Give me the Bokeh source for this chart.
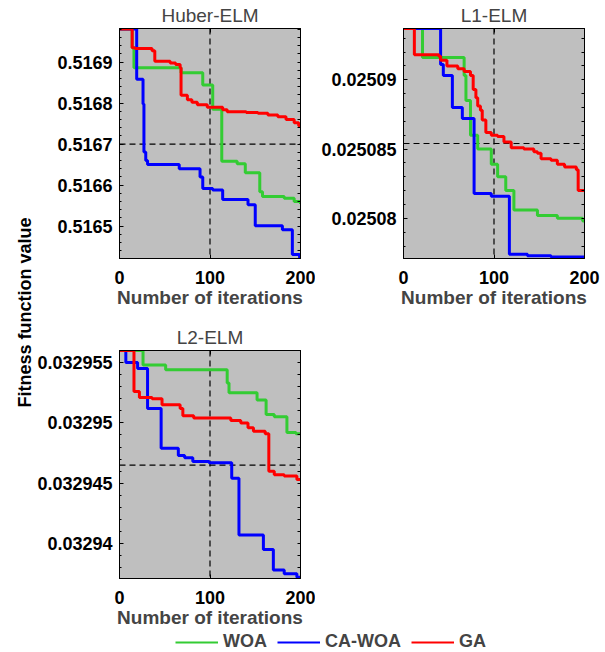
import math
from bokeh.plotting import figure
from bokeh.layouts import row, column
from bokeh.models import (Range1d, FixedTicker, LinearAxis, Span, Label, Legend,
                          LegendItem, CustomJSTickFormatter)
from bokeh.embed import file_html
from bokeh.resources import INLINE

FONT = "Liberation Sans"
COLORS = {"WOA": "#33cc33", "CA-WOA": "#0000ff", "GA": "#ff0000"}
SERIES_NAMES = ["WOA", "CA-WOA", "GA"]

X_TICKS = [0, 100, 200]
X_RANGE = [0, 200]
V_LINE = 100

# ---------------- Huber-ELM ----------------
huber_woa_it = [0, 14, 16, 68, 92, 103, 113, 130, 139, 155, 158, 182, 193, 200]
huber_woa_v = [0.516981, 0.516935, 0.516886, 0.516874, 0.516844, 0.516785, 0.516658,
               0.516652, 0.516630, 0.516584, 0.516572, 0.516568, 0.516560, 0.516554]
huber_ca_it = [0, 19, 26, 27, 29, 31, 66, 89, 92, 103, 114, 142, 150, 180, 191, 199, 200]
huber_ca_v = [0.516981, 0.516858, 0.516798, 0.516681, 0.516660, 0.516650, 0.516640,
              0.516620, 0.516592, 0.516588, 0.516565, 0.516552, 0.516501, 0.516491,
              0.516431, 0.516423, 0.516423]
huber_ga_it = [0, 14, 17, 36, 39, 56, 62, 67, 68, 75, 80, 86, 97, 114, 119, 140, 153,
               164, 175, 184, 193, 198, 200]
huber_ga_v = [0.516981, 0.516935, 0.516933, 0.516928, 0.516902, 0.516898, 0.516894,
              0.516886, 0.516819, 0.516808, 0.516802, 0.516796, 0.516790, 0.516784,
              0.516779, 0.516777, 0.516775, 0.516771, 0.516767, 0.516760, 0.516752,
              0.516745, 0.516745]
huber_yrange = [0.516421, 0.516982]
huber_yticks = [0.5165, 0.5166, 0.5167, 0.5168, 0.5169]
huber_yminor_step = 0.00002
huber_hline = 0.5167

# ---------------- L1-ELM ----------------
l1_woa_it = [0, 21, 67, 69, 74, 82, 97, 104, 113, 122, 148, 170, 198, 200]
l1_woa_v = [0.0250937, 0.0250916, 0.0250903, 0.0250885, 0.0250860, 0.0250850,
            0.0250839, 0.0250830, 0.0250820, 0.0250806, 0.0250802, 0.0250800,
            0.0250798, 0.0250798]
l1_ca_it = [0, 41, 44, 54, 65, 78, 97, 117, 137, 163, 200]
l1_ca_v = [0.0250937, 0.0250911, 0.0250903, 0.0250880, 0.0250872, 0.0250818,
           0.0250816, 0.0250774, 0.0250773, 0.0250772, 0.0250771]
l1_ga_it = [0, 12, 39, 41, 48, 60, 67, 74, 77, 80, 82, 85, 87, 91, 97, 104, 111, 119,
            133, 144, 148, 152, 163, 170, 178, 191, 193, 200]
l1_ga_v = [0.0250937, 0.0250918, 0.0250917, 0.0250914, 0.0250910, 0.0250908,
           0.0250906, 0.0250903, 0.0250893, 0.0250887, 0.0250881, 0.0250878,
           0.0250871, 0.0250862, 0.0250860, 0.0250859, 0.0250855, 0.0250851,
           0.0250850, 0.0250848, 0.0250847, 0.0250843, 0.0250842, 0.0250839,
           0.0250837, 0.0250835, 0.0250820, 0.0250820]
l1_yrange = [0.0250771, 0.0250937]
l1_yticks = [0.02508, 0.025085, 0.02509]
l1_yminor_step = 0.000001
l1_hline = 0.0250854

# ---------------- L2-ELM ----------------
l2_woa_it = [0, 26, 51, 119, 121, 152, 162, 171, 185, 195, 200]
l2_woa_v = [0.0329560, 0.0329548, 0.0329544, 0.0329533, 0.0329525, 0.0329519,
            0.0329507, 0.0329505, 0.0329492, 0.0329491, 0.0329491]
l2_ca_it = [0, 7, 20, 31, 46, 65, 72, 81, 99, 124, 132, 159, 170, 182, 196, 200]
l2_ca_v = [0.0329560, 0.0329550, 0.0329545, 0.0329512, 0.0329479, 0.0329473,
           0.0329471, 0.0329468, 0.0329467, 0.0329454, 0.0329407, 0.0329395,
           0.0329378, 0.0329375, 0.0329372, 0.0329372]
l2_ga_it = [0, 16, 22, 36, 47, 67, 70, 82, 123, 134, 142, 148, 161, 165, 171, 182,
            196, 200]
l2_ga_v = [0.0329560, 0.0329526, 0.0329521, 0.0329520, 0.0329515, 0.0329512,
           0.0329506, 0.0329504, 0.0329502, 0.0329500, 0.0329496, 0.0329493,
           0.0329491, 0.0329460, 0.0329457, 0.0329456, 0.0329453, 0.0329453]
l2_yrange = [0.0329371, 0.0329560]
l2_yticks = [0.03294, 0.032945, 0.03295, 0.032955]
l2_yminor_step = 0.000001
l2_hline = 0.0329465

TICK_FMT = CustomJSTickFormatter(code="return String(parseFloat(tick.toPrecision(6)));")


def minor_list(rng, step):
    n0 = math.ceil(rng[0] / step)
    n1 = math.floor(rng[1] / step)
    return [k * step for k in range(n0, n1 + 1)]


def style_axis(ax):
    ax.axis_line_color = "black"
    ax.major_tick_line_color = "black"
    ax.minor_tick_line_color = "black"
    ax.major_tick_in = 4
    ax.major_tick_out = 0
    ax.minor_tick_in = 2
    ax.minor_tick_out = 0
    ax.major_label_text_font = FONT
    ax.major_label_text_font_size = "18px"
    ax.major_label_text_font_style = "bold"
    ax.major_label_text_color = "black"


def mirror_axis(ticks, length):
    # unlabeled mirror axis: ticks passed as minor ticks so no labels are produced
    ax = LinearAxis(ticker=FixedTicker(ticks=[], minor_ticks=ticks))
    ax.axis_line_color = "black"
    ax.major_tick_line_color = None
    ax.minor_tick_line_color = "black"
    ax.minor_tick_in = length
    ax.minor_tick_out = 0
    ax.major_tick_in = 0
    ax.major_tick_out = 0
    ax.major_label_standoff = 0
    return ax


def panel(title, width, height, left, right, top, bottom, yrange, yticks, ystep,
          hline, series):
    p = figure(width=width, height=height, output_backend="svg", toolbar_location=None,
               x_range=Range1d(*X_RANGE), y_range=Range1d(*yrange),
               min_border_left=left, min_border_right=right,
               min_border_top=top, min_border_bottom=bottom)
    p.background_fill_color = "#bfbfbf"
    p.border_fill_color = "white"
    p.outline_line_color = "black"
    p.outline_line_width = 1
    p.xgrid.visible = False
    p.ygrid.visible = False

    p.title.text = title
    p.title.align = "center"
    p.title.text_font = FONT
    p.title.text_font_size = "19px"
    p.title.text_font_style = "normal"
    p.title.standoff = 5

    yminor = minor_list(yrange, ystep)
    p.xaxis.ticker = FixedTicker(ticks=X_TICKS)
    p.yaxis.ticker = FixedTicker(ticks=yticks, minor_ticks=yminor)
    p.yaxis.formatter = TICK_FMT
    for ax in p.xaxis:
        style_axis(ax)
        ax.major_label_standoff = 12
        ax.axis_label = "Number of iterations"
        ax.axis_label_text_font = FONT
        ax.axis_label_text_font_size = "19px"
        ax.axis_label_text_font_style = "bold"
        ax.axis_label_standoff = 0
    for ax in p.yaxis:
        style_axis(ax)
        ax.major_label_standoff = 7

    p.add_layout(mirror_axis(yminor, 3), "right")
    p.add_layout(mirror_axis(X_TICKS, 4), "above")

    p.add_layout(Span(location=V_LINE, dimension="height", line_color="black",
                      line_dash="6 4", line_width=1.2, level="underlay"))
    p.add_layout(Span(location=hline, dimension="width", line_color="black",
                      line_dash="6 4", line_width=1.2, level="underlay"))

    for name, (its, vals) in zip(SERIES_NAMES, series):
        p.step(its, vals, mode="after", line_color=COLORS[name], line_width=3)
    return p


p1 = panel("Huber-ELM", 282, 310, 86, 15, 27, 51, huber_yrange, huber_yticks,
           huber_yminor_step, huber_hline,
           [(huber_woa_it, huber_woa_v), (huber_ca_it, huber_ca_v), (huber_ga_it, huber_ga_v)])
p2 = panel("L1-ELM", 290, 310, 88, 21, 27, 51, l1_yrange, l1_yticks,
           l1_yminor_step, l1_hline,
           [(l1_woa_it, l1_woa_v), (l1_ca_it, l1_ca_v), (l1_ga_it, l1_ga_v)])
p3 = panel("L2-ELM", 282, 320, 86, 15, 40, 48, l2_yrange, l2_yticks,
           l2_yminor_step, l2_hline,
           [(l2_woa_it, l2_woa_v), (l2_ca_it, l2_ca_v), (l2_ga_it, l2_ga_v)])

# empty filler to the right of L2
filler = figure(width=290, height=320, output_backend="svg", toolbar_location=None,
                x_range=Range1d(0, 1), y_range=Range1d(0, 1), min_border=0)
filler.axis.visible = False
filler.grid.visible = False
filler.outline_line_color = None

# legend strip (legend-only renderers kept outside the visible range)
lf = figure(width=572, height=22, output_backend="svg", toolbar_location=None,
            x_range=Range1d(0, 1), y_range=Range1d(0, 1), min_border=0)
lf.axis.visible = False
lf.grid.visible = False
lf.outline_line_color = None
items = []
for name in SERIES_NAMES:
    r = lf.line(x=[-3, -2], y=[-3, -3], line_color=COLORS[name], line_width=2)
    items.append(LegendItem(label=name, renderers=[r]))
legend = Legend(items=items, orientation="horizontal", location=(142, 0),
                glyph_width=43, glyph_height=20, label_height=20, label_standoff=5,
                spacing=10, padding=0, margin=0, border_line_color=None,
                background_fill_alpha=0, label_text_font=FONT,
                label_text_font_size="18px", label_text_font_style="bold")
lf.add_layout(legend)

# y-label strip
yl = figure(width=33, height=652, output_backend="svg", toolbar_location=None,
            x_range=Range1d(0, 33), y_range=Range1d(0, 652), min_border=0)
yl.axis.visible = False
yl.grid.visible = False
yl.outline_line_color = None
yl.add_layout(Label(x=24, y=340, text="Fitness function value", angle=math.pi / 2,
                    text_align="center", text_baseline="middle", text_font=FONT,
                    text_font_size="18px", text_font_style="bold", text_color="black"))

layout = row(yl, column(row(p1, p2), row(p3, filler), lf))

open("out.html", "w").write(file_html(layout, INLINE))
